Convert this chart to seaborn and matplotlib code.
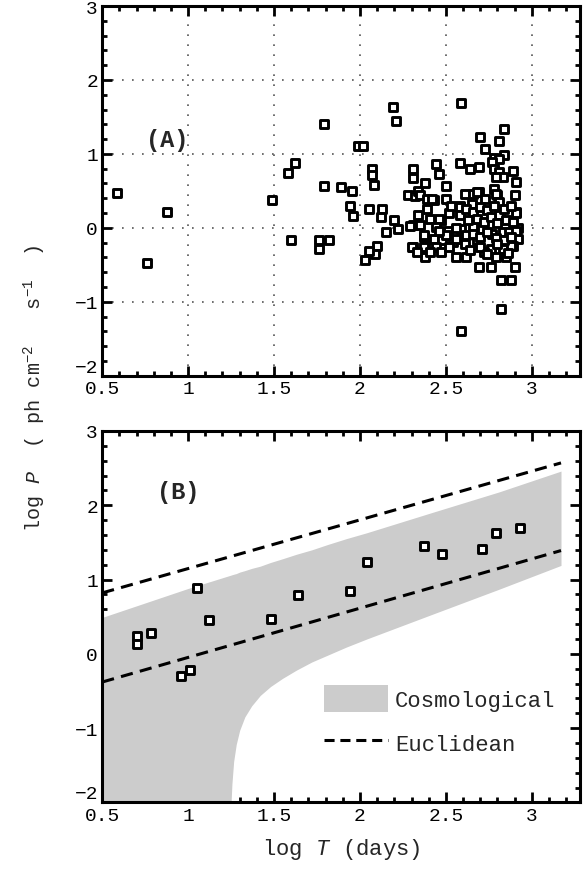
import numpy as np
import pandas as pd
import matplotlib
matplotlib.use("Agg")
import matplotlib.pyplot as plt
import seaborn as sns
from matplotlib.ticker import MultipleLocator, FixedLocator, FixedFormatter
from matplotlib.patches import Patch
from matplotlib.lines import Line2D

sns.set_style("ticks")
plt.rcParams['font.family'] = ['Liberation Mono', 'DejaVu Sans']
plt.rcParams['mathtext.fontset'] = 'custom'
plt.rcParams['mathtext.rm'] = 'Liberation Mono'
plt.rcParams['mathtext.it'] = 'Liberation Mono:italic'

# panel A: log T, log P of all bursts
logT_a = [0.585, 0.76, 0.88, 1.49, 1.58, 1.62, 1.60, 1.79, 1.79, 1.76, 1.76, 1.82,
          1.89, 1.955, 1.94, 1.96, 1.99, 2.02, 2.07, 2.07, 2.08, 2.05, 2.13, 2.12,
          2.20, 2.22, 2.15, 2.19, 2.21, 2.10, 2.09, 2.05, 2.03, 2.59, 2.82, 2.59,
          2.82, 2.88, 2.69, 2.76, 2.90, 2.70, 2.73, 2.81, 2.84, 2.84, 2.78, 2.81,
          2.77, 2.78, 2.58, 2.64, 2.69, 2.44, 2.46, 2.31, 2.31, 2.38, 2.50, 2.89,
          2.91, 2.81, 2.83, 2.79, 2.78, 2.80, 2.90, 2.91, 2.92, 2.92, 2.89, 2.28,
          2.32, 2.34, 2.35, 2.39, 2.43, 2.50, 2.42, 2.61, 2.69, 2.79, 2.66, 2.68,
          2.58, 2.65, 2.73, 2.81, 2.91, 2.86, 2.81, 2.34, 2.41, 2.47, 2.39, 2.46,
          2.31, 2.35, 2.29, 2.44, 2.51, 2.59, 2.66, 2.71, 2.77, 2.83, 2.87, 2.91,
          2.37, 2.43, 2.48, 2.37, 2.31, 2.38, 2.30, 2.37, 2.44, 2.54, 2.61, 2.68,
          2.76, 2.83, 2.88, 2.38, 2.56, 2.62, 2.79, 2.85, 2.47, 2.72, 2.58, 2.58,
          2.56, 2.56, 2.62, 2.66, 2.70, 2.74, 2.78, 2.84, 2.88, 2.63, 2.68, 2.72,
          2.76, 2.80, 2.85, 2.89, 2.62, 2.66, 2.70, 2.74, 2.79, 2.84, 2.88, 2.64,
          2.70, 2.74, 2.80, 2.86, 2.52, 2.53, 2.50, 2.52, 2.46, 2.41, 2.33]
logP_a = [0.47, -0.47, 0.22, 0.38, 0.74, 0.88, -0.16, 1.40, 0.56, -0.16, -0.29, -0.16,
          0.55, 0.50, 0.29, 0.16, 1.10, 1.10, 0.79, 0.71, 0.58, 0.26, 0.26, 0.14,
          0.10, -0.01, -0.06, 1.63, 1.44, -0.25, -0.36, -0.32, -0.43, 1.69, -1.10, -1.40,
          -0.71, -0.71, -0.53, -0.53, -0.53, 1.23, 1.06, 1.18, 1.33, 0.98, 0.95, 0.93,
          0.89, 0.80, 0.88, 0.79, 0.82, 0.86, 0.73, 0.80, 0.67, 0.61, 0.56, 0.77,
          0.62, 0.76, 0.69, 0.69, 0.53, 0.44, 0.44, 0.21, 0.00, -0.15, -0.25, 0.45,
          0.43, 0.50, 0.44, 0.39, 0.37, 0.39, 0.39, 0.46, 0.48, 0.46, 0.46, 0.49,
          0.30, 0.32, 0.39, 0.35, 0.20, 0.18, 0.17, 0.17, 0.12, 0.10, 0.26, 0.12,
          0.04, 0.04, 0.03, 0.01, -0.04, -0.01, 0.01, -0.01, -0.08, -0.06, -0.06, -0.04,
          -0.13, -0.15, -0.17, -0.10, -0.26, -0.24, -0.26, -0.26, -0.26, -0.19, -0.22, -0.17,
          -0.28, -0.28, -0.24, -0.40, -0.40, -0.40, -0.40, -0.40, -0.33, -0.33, 0.28, 0.17,
          0.00, -0.15, 0.25, 0.22, 0.28, 0.24, 0.30, 0.26, 0.30, 0.10, 0.12, 0.08,
          0.14, 0.06, 0.10, 0.08, -0.10, -0.08, -0.12, -0.06, -0.14, -0.16, -0.12, -0.30,
          -0.26, -0.36, -0.22, -0.34, 0.20, 0.30, -0.10, -0.26, -0.04, -0.33, -0.33]

# panel B: binned values
logT_b = [0.705, 0.705, 0.785, 1.05, 1.12, 0.96, 1.01, 1.48, 1.64, 1.94, 2.04,
          2.37, 2.48, 2.71, 2.79, 2.93]
logP_b = [0.24, 0.13, 0.28, 0.88, 0.45, -0.30, -0.22, 0.47, 0.79, 0.84, 1.24,
          1.45, 1.34, 1.41, 1.63, 1.70]

# Euclidean model lines
euclid_x = [0.5, 3.17]
euclid_upper = [0.82, 2.57]
euclid_lower = [-0.38, 1.39]

# Cosmological band
cosmo_x = [0.5, 1.0, 1.25, 1.255, 1.265, 1.28, 1.30, 1.33, 1.37, 1.42, 1.48, 1.55,
           1.63, 1.72, 1.81, 1.92, 2.04, 2.43, 2.81, 3.17]
cosmo_upper = [0.49, 0.88, 1.06, 1.064, 1.071, 1.08, 1.10, 1.12, 1.15, 1.18, 1.23, 1.28,
               1.34, 1.40, 1.47, 1.55, 1.63, 1.91, 2.18, 2.46]
cosmo_lower = [-2.0, -2.0, -2.0, -1.75, -1.45, -1.22, -1.03, -0.85, -0.70, -0.56, -0.44, -0.33,
               -0.22, -0.11, -0.02, 0.09, 0.20, 0.54, 0.87, 1.19]

xticks = [0.5, 1, 1.5, 2, 2.5, 3]
xticklabels = ['0.5', '1', '1.5', '2', '2.5', '3']

df_a = pd.DataFrame({'logT': logT_a, 'logP': logP_a})
df_b = pd.DataFrame({'logT': logT_b, 'logP': logP_b})

fig = plt.figure(figsize=(5.84, 8.78), dpi=100)
ax1 = fig.add_axes([0.175, 0.571, 0.818, 0.421])
ax2 = fig.add_axes([0.175, 0.085, 0.818, 0.423])

marker_kw = dict(marker='s', s=30, facecolor='white', edgecolor='black', linewidth=2.1, zorder=3)

sns.scatterplot(data=df_a, x='logT', y='logP', ax=ax1, **marker_kw)

ax2.fill_between(cosmo_x, cosmo_lower, cosmo_upper, color='#cccccc', linewidth=0, zorder=1)
for yy in (euclid_upper, euclid_lower):
    sns.lineplot(x=euclid_x, y=yy, ax=ax2, color='black', linewidth=2.2, zorder=2)
    ax2.lines[-1].set_linestyle((0, (4, 2.4)))
sns.scatterplot(data=df_b, x='logT', y='logP', ax=ax2, **marker_kw)

for ax in (ax1, ax2):
    ax.set_xlim(0.5, 3.28)
    ax.set_ylim(-2, 3)
    ax.xaxis.set_major_locator(FixedLocator(xticks))
    ax.xaxis.set_major_formatter(FixedFormatter(xticklabels))
    ax.xaxis.set_minor_locator(MultipleLocator(0.1))
    ax.yaxis.set_major_locator(MultipleLocator(1))
    ax.yaxis.set_minor_locator(MultipleLocator(0.2))
    ax.tick_params(which='both', direction='in', top=True, right=True,
                   labelsize=14, width=2, colors='black', pad=3)
    ax.tick_params(which='major', length=7)
    ax.tick_params(which='minor', length=3.5)
    for sp in ax.spines.values():
        sp.set_linewidth(2.2)
        sp.set_color('black')
    ax.set_xlabel('')
    ax.set_ylabel('')

ax1.grid(True, which='major', color='#555555', linestyle=(0, (1, 5)), linewidth=1.2)
ax2.grid(False)

ax1.text(0.88, 1.2, '(A)', fontsize=17, fontweight='bold', ha='center', va='center')
ax2.text(0.945, 2.19, '(B)', fontsize=17, fontweight='bold', ha='center', va='center')

handles = [Patch(facecolor='#cccccc', edgecolor='none'),
           Line2D([0], [0], color='black', linewidth=2.2, linestyle=(0, (3.3, 1.9)))]
ax2.legend(handles, ['Cosmological', 'Euclidean'], loc='upper left',
           bbox_to_anchor=(0.464, 0.315), frameon=False, fontsize=16,
           handlelength=2.9, handleheight=1.5, handletextpad=0.3, labelspacing=0.75,
           borderpad=0, borderaxespad=0)

ax2.set_xlabel(r'log $T$ (days)', fontsize=16, labelpad=9)
fig.text(0.06, 0.558, r'log $P$  ( ph cm$^{-2}$   s$^{-1}$  )', rotation=90,
         fontsize=14.5, ha='center', va='center')

# the lowest y label sits a little above the axis corner
fig.canvas.draw()
for ax in (ax1, ax2):
    for lab in ax.get_yticklabels():
        if lab.get_text() in ('\u22122', '-2'):
            lab.set_va('bottom')

fig.savefig('out.png', dpi=100)
